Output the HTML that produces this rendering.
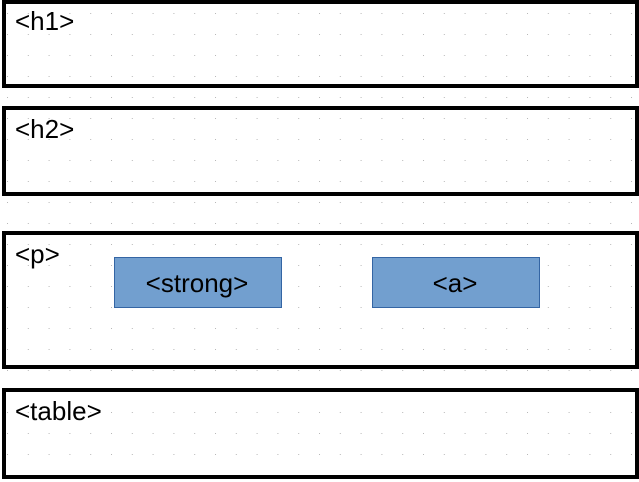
<!DOCTYPE html>
<html><head><meta charset="utf-8"><style>
html,body{margin:0;padding:0;background:#fff;}
svg{display:block;}
text{font-family:"Liberation Sans",sans-serif;font-size:26px;fill:#000;}
</style></head><body>
<svg width="639" height="482" viewBox="0 0 639 482">
<defs>
<pattern id="dots" x="7" y="13" width="20.8" height="21" patternUnits="userSpaceOnUse">
<rect x="0" y="0" width="1" height="1" fill="#b8b8b8"/>
</pattern>
</defs>
<rect x="0" y="0" width="639" height="482" fill="url(#dots)"/>
<g fill="none" stroke="#000" stroke-width="4">
<rect x="4" y="2" width="633" height="84"/>
<rect x="4" y="108" width="633" height="86"/>
<rect x="4" y="233" width="633" height="134"/>
<rect x="4" y="390" width="633" height="87"/>
</g>
<text x="15" y="30" font-size="25">&lt;h1&gt;</text>
<text x="15" y="138" font-size="25">&lt;h2&gt;</text>
<text x="15" y="263" font-size="25">&lt;p&gt;</text>
<text x="15" y="420" font-size="25">&lt;table&gt;</text>
<rect x="114.5" y="257.5" width="167" height="50" fill="#729fcf" stroke="#3465a4" stroke-width="1"/>
<text x="197" y="292" text-anchor="middle" font-size="25">&lt;strong&gt;</text>
<rect x="372.5" y="257.5" width="167" height="50" fill="#729fcf" stroke="#3465a4" stroke-width="1"/>
<text x="455" y="292" text-anchor="middle" font-size="25">&lt;a&gt;</text>
</svg>
</body></html>
